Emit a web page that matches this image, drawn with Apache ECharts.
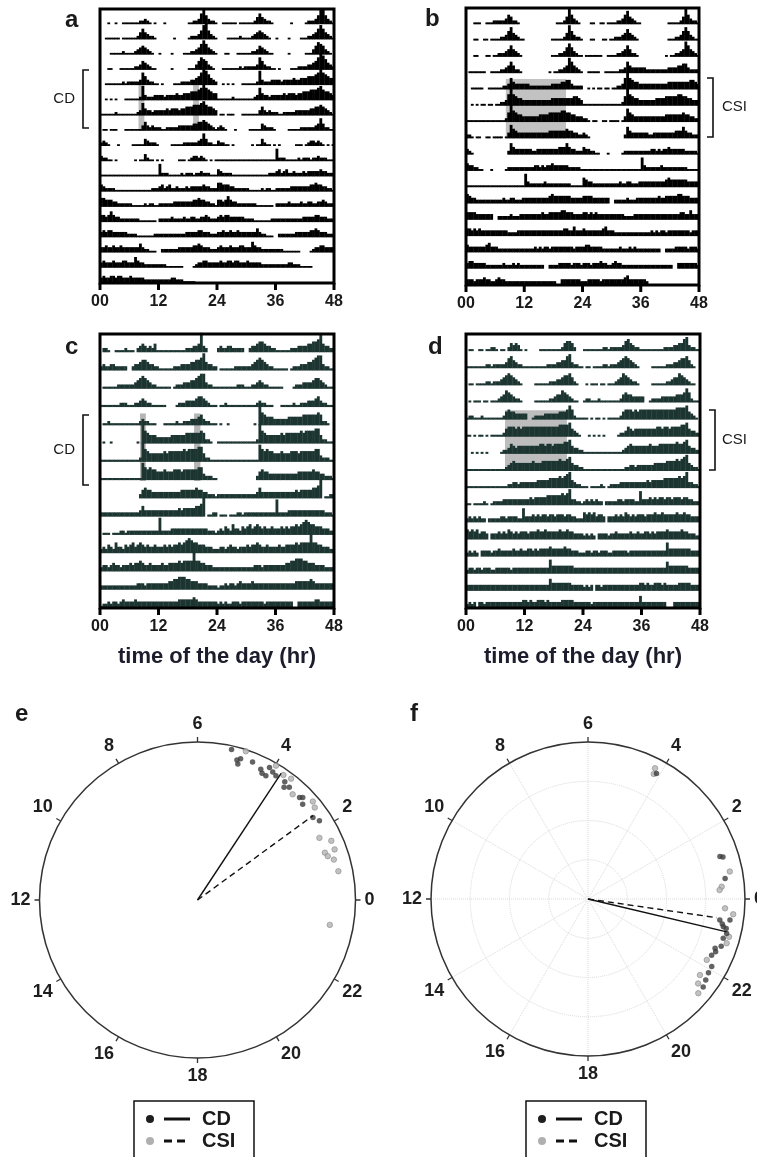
<!DOCTYPE html>
<html><head><meta charset="utf-8">
<script src="https://cdn.jsdelivr.net/npm/echarts@6/dist/echarts.min.js"></script>
<style>html,body{margin:0;padding:0;background:#fff}#chart{width:757px;height:1157px}</style>
</head><body><div id="chart"></div>
<script>
// ---------------- data ----------------
const X_TICK_VALUES = [0, 12, 24, 36, 48];
const X_TICK_LABELS = ['00', '12', '24', '36', '48'];
const X_AXIS_TITLE = 'time of the day (hr)';
// actogram days: 48 half-hour bins per day, activity level 0-9
const ACTO_A = [
 "000100100111 111122321010 001000000000 112236953221",
 "001111110111 111246432210 000000100000 122235895321",
 "000011111211 112345432100 100001000011 122346864321",
 "000110001111 112235432110 000001000000 111357653210",
 "001111111212 222237532211 010000111222 233457986432",
 "001010100011 111128322233 332333343344 455567976544",
 "111111211111 111237433233 333434443445 556667865543",
 "011011100011 111113532322 211222223333 334455654321",
 "232100010000 011111432221 000001111122 222234742211",
 "322110100000 001011421101 010000001110 123323210101",
 "111111111111 111111111111 722211111212 221223222111",
 "432222111111 111111111222 342342232223 233333433222",
 "554443322222 211111212211 222222333333 334454433221",
 "443464332222 222211111110 222223222232 233223343222",
 "343443333332 222111111122 222222222223 333344333222",
 "334334334333 333353221110 022222223333 334454333222",
 "343334333443 336433222222 222111111100 001233443333",
 "343344344333 433333222222 222223322211 111000000000",
 "000000000000 000000000000 000000000000 000000000000"
];
const ACTO_B = [
 "000111001112 222235422100 000000000000 011124953210",
 "000110011011 112235743211 000000000001 111124853221",
 "000110001101 122234643210 000000000001 112235753211",
 "011111110011 112234642210 000000000010 112234864321",
 "001111100111 111223643333 332222222223 333445532222",
 "001010110110 112236965443 333333333334 444444445543",
 "111111111111 111125965443 333333444455 555665544333",
 "221011001101 111013754333 333333333344 444445443322",
 "321000000000 000002643333 333223333333 334446433222",
 "433221100010 000012222222 222233232334 333333222221",
 "111111111111 111111111111 732222223222 222222211111",
 "543322222222 222322332223 333333333345 444444433333",
 "444433333330 022222322233 333333343344 444554443333",
 "443434333333 333332222333 333333333333 333344335333",
 "433333334533 322222222222 222232323323 333333332333",
 "344333332222 222322232322 222222220022 223333323332",
 "333233343322 343322222222 222222222222 200333333332",
 "223333323333 333334533333 332000000000 000000000000"
];
const ACTO_C = [
 "022100111121 110234323241 111111111112 223349320000",
 "232233222220 023345543322 111111222333 344556843322",
 "011111122222 223456543221 111110122233 344567732211",
 "111111112221 112234322111 111000012223 333455432111",
 "011211111111 111123221110 001111121122 233345322111",
 "010010000000 000109654443 333334444445 555556522100",
 "111111111111 111129654444 445455555565 666677422111",
 "111111111111 111118656554 445444555455 555566322211",
 "000000000000 000024544333 333333333444 444544332221",
 "222222222222 222235333333 333333334344 444556901122",
 "011101112212 222222222222 822223333333 333333332221",
 "232432533243 453454343343 334343445456 765544433322",
 "233234332333 434454334333 343344445455 559554433322",
 "222222222222 222333233333 333344556665 544433332222",
 "122323323433 334333333333 333333334444 445433333333",
 "232322333233 333333323333 333333300333 333344333333"
];
const ACTO_D = [
 "011001101122 101102434310 100000111111 111245542000",
 "111111112212 222235643221 111111111222 233446732211",
 "011011112212 223456543210 000011111122 233455642100",
 "010111011011 123465432210 000011111122 344654321100",
 "122111211111 111245443333 300122223333 334445752111",
 "110101101011 111245554545 555555555555 556666743210",
 "001010101000 001223543444 444444554554 555566743322",
 "111111111111 111123454444 444544455555 556556743322",
 "111111111111 111112233233 333334444455 556567843221",
 "110111121012 222333333333 334344444555 555656833221",
 "232323220222 223323333227 333434344344 344434433222",
 "545453443033 343435434344 434445445444 445445443333",
 "232320333323 343333343343 344343444454 444454433322",
 "233233233322 333333233333 333333333374 444444443333",
 "333333333333 333333333333 333333333364 444444433333",
 "232303323333 333333333334 434334443433 333444443333",
 "333233333333 333333333336 333333333300 033333333333"
];
// shaded regions: [hourStart, hourEnd, rowTop, rowBottom] (rows counted from the top)
const SHADE_A = [[7.9, 9.1, 5, 8], [19.1, 20.3, 5, 8]];
const SHADE_B = [[8.2, 20.6, 4.35, 8]];
const SHADE_C = [[8.2, 9.4, 4.35, 8.05], [19.3, 20.6, 4.35, 8.05]];
const SHADE_D = [[8.0, 20.7, 4.45, 7.95]];

// circular plots: [hour, radius fraction]
const E_CD = [[5.15,0.977],[4.87,0.935],[4.9,0.898],[4.95,0.92],[4.55,0.94],[4.28,0.92],[4.1,0.955],[4.08,0.898],[3.97,0.94],[4.2,0.9],[3.85,0.93],[3.57,0.93],[3.39,0.92],[3.5,0.9],[3.01,0.916],[2.82,0.9],[2.95,0.93],[2.37,0.898],[2.2,0.92]];
const E_CSI = [[4.8,0.99],[3.98,0.985],[3.7,0.96],[3.49,0.97],[3.2,0.9],[2.55,0.945],[2.7,0.96],[1.8,0.866],[1.59,0.926],[1.35,0.925],[1.36,0.86],[1.24,0.87],[1.1,0.9],[0.77,0.91],[23.29,0.852]];
const E_MEAN_CD = [3.77, 0.96];
const E_MEAN_CSI = [2.41, 0.905];
const F_CD = [[4.09,0.91],[1.19,0.883],[1.15,0.9],[0.57,0.883],[23.4,0.85],[23.44,0.914],[23.23,0.88],[23.07,0.91],[22.92,0.897],[22.59,0.868],[22.37,0.865],[22.09,0.898],[21.51,0.923],[23.2,0.9],[23.3,0.87],[22.7,0.9],[22.5,0.88],[21.9,0.9],[21.7,0.91]];
const F_CSI = [[4.19,0.936],[4.15,0.9],[0.73,0.92],[0.35,0.855],[0.26,0.84],[23.74,0.875],[22.82,0.927],[22.19,0.85],[21.72,0.862],[21.5,0.884],[21.3,0.924],[23.6,0.93],[23.0,0.93]];
const F_MEAN_CD = [23.11, 0.908];
const F_MEAN_CSI = [23.45, 0.83];
const LEGEND_LABELS = ['CD', 'CSI'];

// ---------------- helpers ----------------
const FONT = 'Liberation Sans, Arial, Helvetica, sans-serif';
const LEVEL_UNIT = 0.118;
function parseDay(s) {
  const d = s.replace(/\s+/g, '').split('').map(Number);
  while (d.length < 48) d.push(0);
  return d.slice(0, 48);
}
function actoItems(raw) {
  const days = raw.map(parseDay);
  const rows = days.length - 1;
  const items = [];
  for (let r = 0; r < rows; r++) {
    [days[r], days[r + 1]].forEach((day, half) => {
      day.forEach((lvl, k) => {
        if (lvl > 0) items.push([half * 24 + k * 0.5, half * 24 + (k + 1) * 0.5, rows - r - 1, lvl]);
      });
    });
  }
  return { items, rows };
}
function barSeries(gi, items, color) {
  return {
    type: 'custom', xAxisIndex: gi, yAxisIndex: gi, z: 3,
    encode: { x: [0, 1], y: 2 }, data: items, silent: true,
    renderItem: (p, api) => {
      const x0 = api.value(0), x1 = api.value(1), base = api.value(2), l = api.value(3);
      const a = api.coord([x0, base]);
      const b = api.coord([x1, base + l * LEVEL_UNIT]);
      return { type: 'rect', shape: { x: a[0], y: b[1], width: b[0] - a[0] + 0.4, height: a[1] - b[1] }, style: { fill: color } };
    }
  };
}
function shadeSeries(gi, shades, rows, color) {
  const data = shades.map(s => [s[0], s[1], rows - s[2], rows - s[3]]);
  return {
    type: 'custom', xAxisIndex: gi, yAxisIndex: gi, z: 1,
    encode: { x: [0, 1], y: [2, 3] }, data: data, silent: true,
    renderItem: (p, api) => {
      const a = api.coord([api.value(0), api.value(2)]);
      const b = api.coord([api.value(1), api.value(3)]);
      return { type: 'rect', shape: { x: a[0], y: a[1], width: b[0] - a[0], height: b[1] - a[1] }, style: { fill: color } };
    }
  };
}
// bottom tick marks + tick labels, placed with the axis scale
function tickSeries(gi) {
  return {
    type: 'custom', xAxisIndex: gi, yAxisIndex: gi, z: 7, clip: false, silent: true,
    encode: { x: 0, y: 1 }, data: X_TICK_VALUES.map(v => [v, 0]),
    renderItem: (p, api) => {
      const a = api.coord([api.value(0), 0]);
      return { type: 'group', children: [
        { type: 'line', shape: { x1: a[0], y1: a[1], x2: a[0], y2: a[1] + 7 }, style: { stroke: '#000', lineWidth: 3 } },
        { type: 'text', style: { text: X_TICK_LABELS[p.dataIndex], x: a[0], y: a[1] + 19, font: 'bold 16px ' + FONT, fill: '#1a1a1a',
          align: 'center', textAlign: 'center', verticalAlign: 'middle', textVerticalAlign: 'middle' } }
      ] };
    }
  };
}

const panels = [
  { raw: ACTO_A, shade: SHADE_A, color: '#000', shadeColor: '#bdbdbd', grid: { left: 100, top: 9, width: 234, height: 274 } },
  { raw: ACTO_B, shade: SHADE_B, color: '#000', shadeColor: '#c2c2c2', grid: { left: 466, top: 8, width: 233, height: 277 } },
  { raw: ACTO_C, shade: SHADE_C, color: '#1c3531', shadeColor: '#b5b5b5', grid: { left: 100, top: 334, width: 234, height: 274 } },
  { raw: ACTO_D, shade: SHADE_D, color: '#1c3531', shadeColor: '#bdbdbd', grid: { left: 466, top: 334, width: 234, height: 274 } }
];

const grids = [], xAxes = [], yAxes = [], series = [];
panels.forEach((p, i) => {
  const { items, rows } = actoItems(p.raw);
  grids.push(Object.assign({ show: true, borderColor: '#000', borderWidth: 3, z: 6 }, p.grid));
  xAxes.push({ gridIndex: i, type: 'value', min: 0, max: 48, interval: 12, show: false });
  yAxes.push({ gridIndex: i, type: 'value', min: 0, max: rows, show: false });
  series.push(shadeSeries(i, p.shade, rows, p.shadeColor));
  series.push(barSeries(i, items, p.color));
  series.push(tickSeries(i));
});

function angleAxis(pi, grid) {
  return {
    polarIndex: pi, type: 'value', min: 0, max: 24, interval: 2, startAngle: 0, clockwise: false,
    axisLine: { lineStyle: { color: '#333', width: 1.5 } },
    axisTick: { show: true, length: 5, lineStyle: { color: '#333', width: 1.3 } },
    axisLabel: { margin: 9, fontSize: 18, fontWeight: 'bold', color: '#1e1e1e', fontFamily: FONT, formatter: v => (v >= 24 ? '' : String(v)) },
    splitLine: { show: grid, lineStyle: { type: 'dotted', color: '#d9d9d9', width: 1 } }
  };
}
function radiusAxis(pi, grid) {
  return {
    polarIndex: pi, type: 'value', min: 0, max: 1, interval: 0.25,
    axisLine: { show: false }, axisTick: { show: false }, axisLabel: { show: false },
    splitLine: { show: grid, lineStyle: { type: 'dotted', color: '#d9d9d9', width: 1 } }
  };
}
function polarSeries(pi, cd, csi, mCd, mCsi) {
  return [
    { type: 'scatter', coordinateSystem: 'polar', polarIndex: pi, symbolSize: 5.5, z: 3,
      itemStyle: { color: '#b3b3b3', borderColor: '#8a8a8a', borderWidth: 0.8 }, data: csi.map(d => [d[1], d[0]]) },
    { type: 'scatter', coordinateSystem: 'polar', polarIndex: pi, symbolSize: 5.5, z: 4,
      itemStyle: { color: '#3c3c3c' }, data: cd.map(d => [d[1], d[0]]) },
    { type: 'line', coordinateSystem: 'polar', polarIndex: pi, symbol: 'none', z: 5,
      lineStyle: { color: '#111', width: 1.4 }, data: [[0, mCd[0]], [mCd[1], mCd[0]]] },
    { type: 'line', coordinateSystem: 'polar', polarIndex: pi, symbol: 'none', z: 5,
      lineStyle: { color: '#111', width: 1.4, type: [6, 4] }, data: [[0, mCsi[0]], [mCsi[1], mCsi[0]]] }
  ];
}
series.push(...polarSeries(0, E_CD, E_CSI, E_MEAN_CD, E_MEAN_CSI));
series.push(...polarSeries(1, F_CD, F_CSI, F_MEAN_CD, F_MEAN_CSI));

// ---------------- decorations ----------------
function txt(t, x, y, size, opts) {
  opts = opts || {};
  return { type: 'text', z: 10, style: { text: t, x: x, y: y, font: (opts.weight ? opts.weight + ' ' : '') + size + 'px ' + FONT,
    fill: opts.fill || '#1a1a1a', align: opts.align || 'left', textAlign: opts.align || 'left',
    verticalAlign: 'middle', textVerticalAlign: 'middle' } };
}
function bracket(x, y0, y1, dir) {
  return { type: 'polyline', z: 10, shape: { points: [[x + 6 * dir, y0], [x, y0], [x, y1], [x + 6 * dir, y1]] }, style: { stroke: '#111', lineWidth: 1.6, fill: null } };
}
function legendBox(x, y) {
  return [
    { type: 'rect', z: 10, shape: { x: x, y: y, width: 120, height: 64 }, style: { fill: '#fff', stroke: '#111', lineWidth: 1.5 } },
    { type: 'circle', z: 11, shape: { cx: x + 16, cy: y + 18, r: 4 }, style: { fill: '#1e1e1e' } },
    { type: 'line', z: 11, shape: { x1: x + 30, y1: y + 18, x2: x + 56, y2: y + 18 }, style: { stroke: '#111', lineWidth: 3 } },
    txt(LEGEND_LABELS[0], x + 68, y + 18, 20, { weight: 'bold' }),
    { type: 'circle', z: 11, shape: { cx: x + 16, cy: y + 40, r: 4 }, style: { fill: '#b0b0b0' } },
    { type: 'line', z: 11, shape: { x1: x + 30, y1: y + 40, x2: x + 56, y2: y + 40 }, style: { stroke: '#111', lineWidth: 3, lineDash: [8, 5] } },
    txt(LEGEND_LABELS[1], x + 68, y + 40, 20, { weight: 'bold' })
  ];
}
const graphics = [
  txt('a', 65, 20, 24, { weight: 'bold' }),
  txt('b', 425, 19, 24, { weight: 'bold' }),
  txt('c', 65, 347, 24, { weight: 'bold' }),
  txt('d', 428, 347, 24, { weight: 'bold' }),
  txt('e', 15, 714, 24, { weight: 'bold' }),
  txt('f', 410, 714, 24, { weight: 'bold' }),
  txt(X_AXIS_TITLE, 217, 657, 22, { weight: 'bold', align: 'center', fill: '#1c1c2c' }),
  txt(X_AXIS_TITLE, 583, 657, 22, { weight: 'bold', align: 'center', fill: '#1c1c2c' }),
  bracket(83, 70, 128, 1), txt('CD', 75, 99, 15, { align: 'right' }),
  bracket(713, 78, 137, -1), txt('CSI', 722, 107, 15, {}),
  bracket(83, 415, 485, 1), txt('CD', 75, 450, 15, { align: 'right' }),
  bracket(715, 410, 470, -1), txt('CSI', 722, 440, 15, {}),
  ...legendBox(134, 1101),
  ...legendBox(526, 1101)
];

const chart = echarts.init(document.getElementById('chart'), null, { renderer: 'canvas' });
chart.setOption({
  animation: false,
  backgroundColor: '#fff',
  grid: grids, xAxis: xAxes, yAxis: yAxes,
  polar: [{ center: [197.5, 900], radius: 158 }, { center: [588, 899], radius: 157 }],
  angleAxis: [angleAxis(0, false), angleAxis(1, true)],
  radiusAxis: [radiusAxis(0, false), radiusAxis(1, true)],
  series: series,
  graphic: graphics
});
</script></body></html>
